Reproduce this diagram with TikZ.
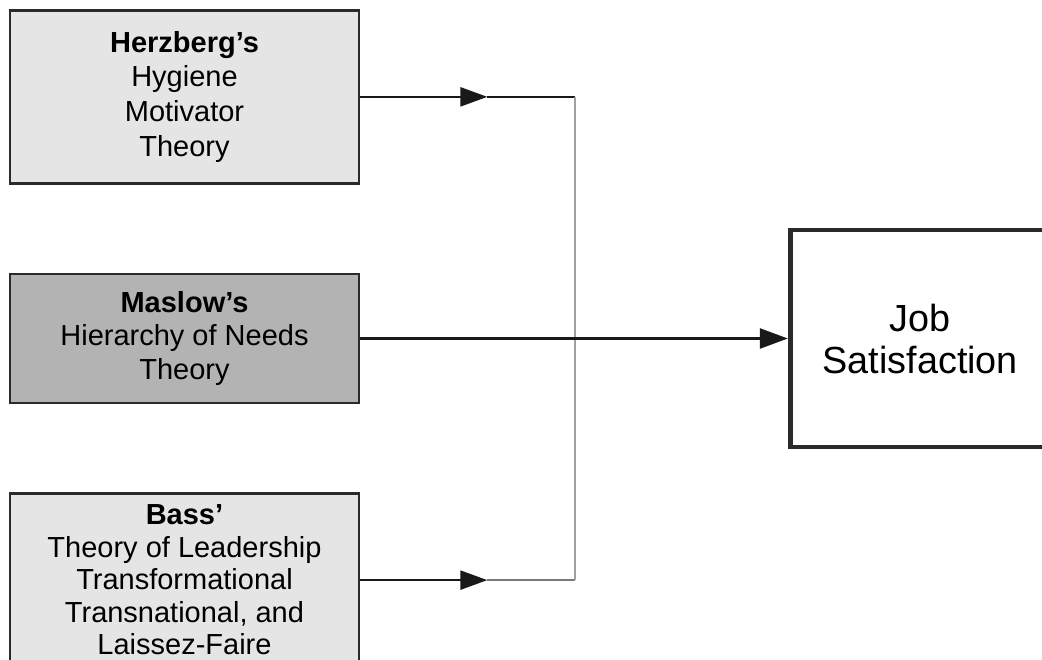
\documentclass[tikz,border=0pt]{standalone}
\usepackage{fontspec}
\setmainfont{Liberation Sans}
\usepackage{tikz}
\usetikzlibrary{arrows.meta, positioning, calc}
\definecolor{lightfill}{HTML}{E5E5E5}
\definecolor{maslowfill}{HTML}{B3B3B4}
\definecolor{boxline}{HTML}{2A2A2A}
\definecolor{joincolor}{HTML}{A0A0A0}
\definecolor{tailcolor}{HTML}{7A7A7A}

\begin{document}
\begin{tikzpicture}[
    theory/.style={rectangle, draw=boxline, fill=#1, line width=1.5pt, minimum width=6.98cm,
                   align=center, font=\fontsize{16.5}{19.2}\selectfont},
    outcome/.style={rectangle, draw=boxline, fill=white, line width=2.8pt, minimum width=5.2cm,
                    minimum height=4.34cm, align=center, font=\fontsize{21.5}{23.9}\selectfont},
    feed/.style={line width=1.4pt, color=black!90},
    joint/.style={line width=1.2pt, color=joincolor},
    tip/.style={-{Triangle[length=0.54cm, width=0.38cm]}},
    node distance=1.76cm
]
    \useasboundingbox (0,0) rectangle (20.84,-13.2);

    \node[theory=maslowfill, minimum height=2.58cm] (maslow) at (3.69,-6.77)
        {\textbf{Maslow’s}\\Hierarchy of Needs\\Theory};
    \node[theory=lightfill, minimum height=3.46cm, above=of maslow,
          font=\fontsize{16.5}{19.8}\selectfont] (herzberg)
        {\textbf{Herzberg’s}\\Hygiene\\Motivator\\Theory};
    \node[theory=lightfill, minimum height=3.46cm, below=of maslow,
          font=\fontsize{16.5}{18.5}\selectfont] (bass)
        {\textbf{Bass’}\\Theory of Leadership\\Transformational\\Transnational, and\\Laissez-Faire};
    \node[outcome, right=8.55cm of maslow] (job) {Job\\Satisfaction};

    % side inputs run into the grey bar
    \coordinate (topmid) at ($(herzberg.east)+(2.54,0)$);
    \coordinate (topjoin) at ($(herzberg.east)+(4.3,0)$);
    \coordinate (botmid) at ($(bass.east)+(2.54,0)$);
    \coordinate (botjoin) at ($(bass.east)+(4.3,0)$);

    \draw[feed, tip] (herzberg.east) -- (topmid);
    \draw[feed] (topmid) -- (topjoin);
    \draw[feed, tip] (bass.east) -- (botmid);
    \draw[line width=1.2pt, color=tailcolor] (botmid) -- (botjoin);
    \draw[joint] (topjoin) -- (botjoin);

    \draw[feed, -{Triangle[length=0.56cm, width=0.4cm]}] (maslow) -- (job);

\end{tikzpicture}
\end{document}
